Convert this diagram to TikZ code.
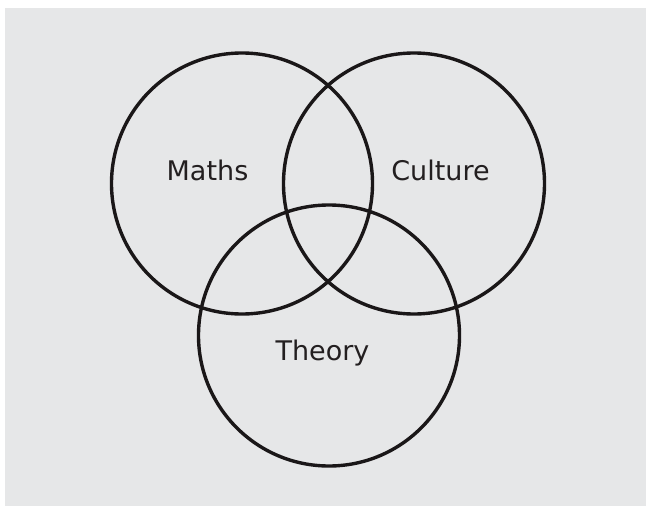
\documentclass[tikz,border=0pt]{standalone}
\usepackage{fontspec}
\setmainfont{DejaVu Sans}
\definecolor{bg}{HTML}{E6E7E8}
\definecolor{txt}{HTML}{231F20}
\definecolor{ring}{HTML}{1A1718}
\begin{document}
\begin{tikzpicture}[x=1pt,y=-1pt,
  setcircle/.style={draw=ring,line width=3.4pt,circle,minimum size=261pt,inner sep=0pt},
  setlabel/.style={text=txt,font=\fontsize{27}{32}\selectfont,inner sep=0pt}]
\useasboundingbox (0,0) rectangle (646,506);
\fill[white] (0,0) rectangle (646,506);
\fill[bg] (5,8) rectangle (646,506);
\node[setcircle] (maths) at (242,183.5) {};
\node[setcircle] (culture) at (414,183.5) {};
\node[setcircle] (theory) at (329,335.5) {};
\node[setlabel] (lm) at (207.5,170) {Maths};
\node[setlabel] (lc) at (440.5,170) {Culture};
\node[setlabel] (lt) at (322.5,353) {Theory};
\end{tikzpicture}
\end{document}
